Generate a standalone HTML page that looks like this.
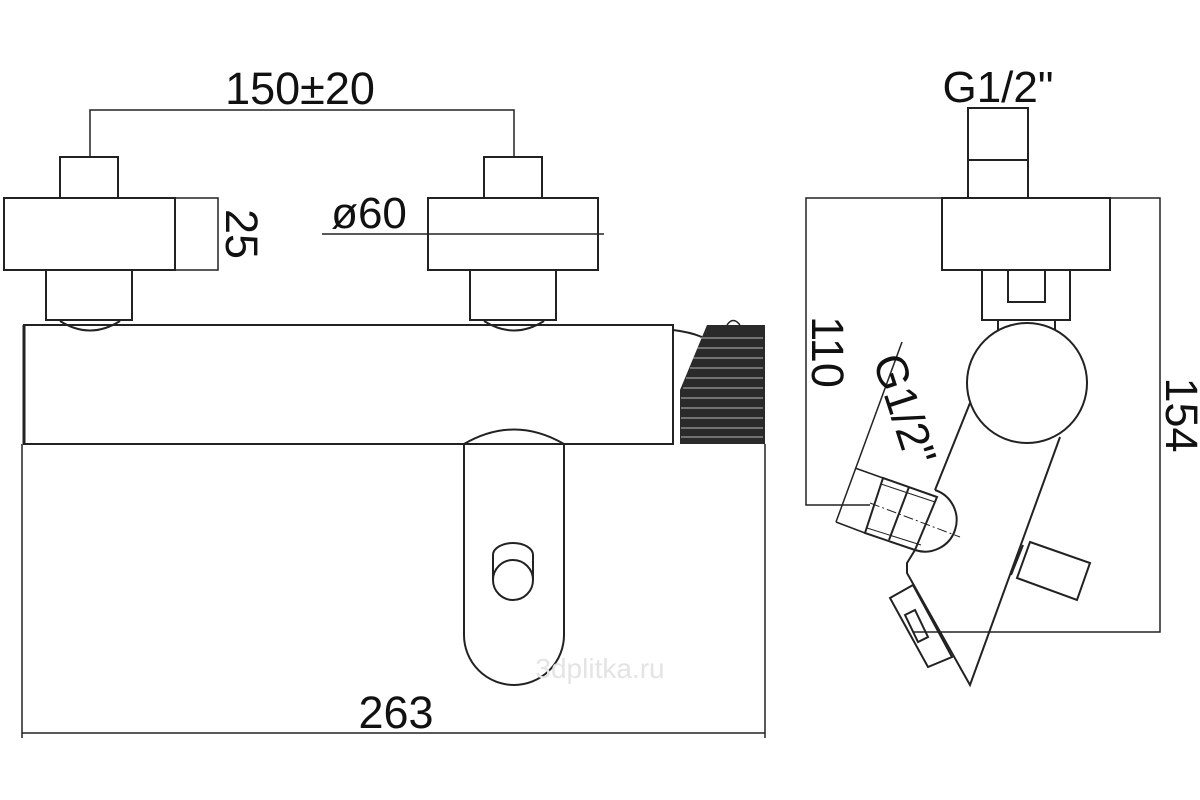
<!DOCTYPE html>
<html><head><meta charset="utf-8"><style>
html,body{margin:0;padding:0;background:#fff;}
svg{display:block;}
text{font-family:"Liberation Sans",sans-serif;fill:#111;}
</style></head><body>
<svg width="1200" height="800" viewBox="0 0 1200 800" xmlns="http://www.w3.org/2000/svg">
<g fill="none" stroke="#222" stroke-width="2">
<polyline points="90,156 90,110 514,110 514,156" stroke-width="1.5"/>
<rect x="60" y="157" width="58" height="41"/>
<rect x="4" y="198" width="171" height="72"/>
<path d="M46,270 V320 H132 V270"/>
<path d="M60,321 Q90,340 120,321"/>
<polyline points="175,198 218,198 218,270 175,270" stroke-width="1.5"/>
<rect x="484" y="157" width="58" height="41"/>
<rect x="428" y="198" width="170" height="72"/>
<path d="M470,270 V320 H556 V270"/>
<path d="M484,321 Q514,340 544,321"/>
<line x1="322" y1="234" x2="604" y2="234" stroke-width="1.5"/>
<rect x="24" y="325" width="649" height="119"/>
<line x1="24" y1="325" x2="24" y2="444" stroke-width="3"/>
<path d="M673,330 Q690,332 702,337"/>
<path d="M464,444 L464,635 A50,50 0 0 0 564,635 L564,444"/>
<path d="M464,444 Q514,415 564,444" />
<circle cx="513" cy="580" r="20"/>
<path d="M493,580 V555 A20,12 0 0 1 533,555 V580"/>
<polyline points="22,444 22,738" stroke-width="1.5"/>
<polyline points="765,444 765,738" stroke-width="1.5"/>
<line x1="22" y1="733" x2="765" y2="733" stroke-width="1.5"/>
<rect x="968" y="108" width="60" height="90"/>
<line x1="968" y1="160" x2="1028" y2="160"/>
<rect x="942" y="198" width="168" height="72"/>
<rect x="982" y="270" width="88" height="50"/>
<rect x="1008" y="270" width="37" height="32"/>
<line x1="998" y1="320" x2="998" y2="330"/><line x1="1055" y1="320" x2="1055" y2="330"/>
<circle cx="1027" cy="383" r="60"/>
<polyline points="942,198 806,198 806,505 870,505" stroke-width="1.5"/>
<polyline points="1110,198 1160,198 1160,632 913,632" stroke-width="1.5"/>
<path d="M970,403 L935,490"/>
<path d="M935,490 A28,28 0 0 1 915,550"/>
<path d="M915,550 L907,563 L907,573 L970,685 L1060,437"/>
<polygon points="883,478 937,497 915,550 865,533"/>
<line x1="909" y1="487" x2="889" y2="540"/>
<line x1="881" y1="484" x2="935" y2="502" stroke-width="1"/>
<line x1="867" y1="528" x2="921" y2="545" stroke-width="1"/>
<line x1="870" y1="503" x2="960" y2="537" stroke-width="1" stroke-dasharray="10,3,2,3"/>
<line x1="902" y1="342" x2="836" y2="522" stroke-width="1.5"/>
<line x1="855" y1="468" x2="883" y2="478" stroke-width="1.5"/>
<line x1="836" y1="522" x2="865" y2="533" stroke-width="1.5"/>
<polygon points="1030,542 1090,563 1077,600 1017,578"/>
<line x1="1023" y1="545" x2="1011" y2="575"/>
<polygon points="890,598 913,585 952,657 928,667"/>
<polygon points="905,615 915,610 928,637 918,642"/>
</g>
<g>
<polygon points="707,325 765,325 765,444 680,444 680,390" fill="#2a2a2a"/>
<g stroke="#bbb" stroke-width="1">
<line x1="700" y1="338" x2="763" y2="338"/><line x1="697" y1="348" x2="763" y2="348"/>
<line x1="693" y1="358" x2="763" y2="358"/><line x1="690" y1="368" x2="763" y2="368"/>
<line x1="686" y1="378" x2="763" y2="378"/><line x1="683" y1="388" x2="763" y2="388"/>
<line x1="681" y1="398" x2="763" y2="398"/><line x1="681" y1="408" x2="763" y2="408"/>
<line x1="681" y1="418" x2="763" y2="418"/><line x1="681" y1="428" x2="763" y2="428"/>
<line x1="681" y1="437" x2="763" y2="437"/>
</g>
<path d="M727,325 Q733,316 740,325" fill="none" stroke="#222" stroke-width="1.5"/>
</g>
<text x="300" y="104" font-size="45" text-anchor="middle">150±20</text>
<text x="369" y="228" font-size="44" text-anchor="middle">ø60</text>
<text transform="translate(226,234) rotate(90)" font-size="45" text-anchor="middle">25</text>
<text x="396" y="728" font-size="45" text-anchor="middle">263</text>
<text x="998" y="102" font-size="44" text-anchor="middle">G1/2"</text>
<text transform="translate(812,352) rotate(90)" font-size="45" text-anchor="middle">110</text>
<text transform="translate(1166,415) rotate(90)" font-size="45" text-anchor="middle">154</text>
<text transform="translate(890,414) rotate(72)" font-size="45" text-anchor="middle">G1/2"</text>
<text x="600" y="678" font-size="28" text-anchor="middle" style="fill:#e4e4e4">3dplitka.ru</text>
</svg>
</body></html>
